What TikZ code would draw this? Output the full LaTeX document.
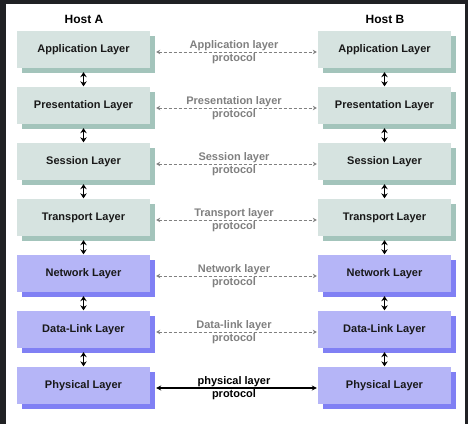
\documentclass[tikz,border=0pt]{standalone}
\usepackage{fontspec}
\setmainfont{Liberation Sans}
\usetikzlibrary{positioning, shadows, arrows.meta}
\definecolor{upfill}{RGB}{214,227,224}
\definecolor{upshade}{RGB}{163,196,187}
\definecolor{lowfill}{RGB}{181,181,247}
\definecolor{lowshade}{RGB}{128,128,244}
\definecolor{peergray}{RGB}{128,128,128}
\definecolor{frame}{RGB}{32,33,36}

\begin{document}
\begin{tikzpicture}[x=1pt, y=-1pt, inner sep=0pt,
      font=\bfseries\fontsize{11}{12.5}\selectfont,
      layer/.style={minimum width=133pt, minimum height=37pt, text=black!90},
      upper/.style={layer, fill=upfill, drop shadow={shadow xshift=5pt,
          shadow yshift=-5pt, fill=upshade, opacity=1}},
      lower/.style={layer, fill=lowfill, drop shadow={shadow xshift=5pt,
          shadow yshift=-5pt, fill=lowshade, opacity=1}},
      stack/.style={{Stealth[length=5pt,width=6.5pt]}-{Stealth[length=5pt,width=6.5pt]},
          line width=1.7pt, shorten <=4pt, shorten >=0.5pt},
      peer/.style={{Stealth[length=4pt,width=4.5pt]}-{Stealth[length=4pt,width=4.5pt]},
          draw=peergray, dash pattern=on 3pt off 2pt, line width=0.9pt,
          shorten <=6pt, shorten >=1pt},
      wire/.style={{Stealth[length=5pt,width=5pt]}-{Stealth[length=5pt,width=5pt]},
          draw=black, line width=1.1pt, shorten <=6pt, shorten >=1pt},
      proto/.style={align=center, text=peergray}]
      \useasboundingbox (0,0) rectangle (468,424);
      \fill[frame] (0,0) rectangle (468,424);
      \fill[white] (6,4) rectangle (465,424);
      % hosts
      \node (host_a) at(84,19.5) {\fontsize{12}{12}\selectfont Host A};
      \node (host_b) at(385,19.5) {\fontsize{12}{12}\selectfont Host B};
      % host A stack
      \node[upper] (a_1) at(83.5,49.5) {Application Layer};
      \node[upper] (a_2) at(83.5,105.5) {Presentation Layer};
      \node[upper] (a_3) at(83.5,161.5) {Session Layer};
      \node[upper] (a_4) at(83.5,217.5) {Transport Layer};
      \node[lower] (a_5) at(83.5,273.5) {Network Layer};
      \node[lower] (a_6) at(83.5,329.5) {Data-Link Layer};
      \node[lower] (a_7) at(83.5,385.5) {Physical Layer};
      \draw[stack] (a_1) -- (a_2);
      \draw[stack] (a_2) -- (a_3);
      \draw[stack] (a_3) -- (a_4);
      \draw[stack] (a_4) -- (a_5);
      \draw[stack] (a_5) -- (a_6);
      \draw[stack] (a_6) -- (a_7);
      % host B stack
      \node[upper] (b_1) at(384.5,49.5) {Application Layer};
      \node[upper] (b_2) at(384.5,105.5) {Presentation Layer};
      \node[upper] (b_3) at(384.5,161.5) {Session Layer};
      \node[upper] (b_4) at(384.5,217.5) {Transport Layer};
      \node[lower] (b_5) at(384.5,273.5) {Network Layer};
      \node[lower] (b_6) at(384.5,329.5) {Data-Link Layer};
      \node[lower] (b_7) at(384.5,385.5) {Physical Layer};
      \draw[stack] (b_1) -- (b_2);
      \draw[stack] (b_2) -- (b_3);
      \draw[stack] (b_3) -- (b_4);
      \draw[stack] (b_4) -- (b_5);
      \draw[stack] (b_5) -- (b_6);
      \draw[stack] (b_6) -- (b_7);
      % peer protocols
      \draw[peer] ([yshift=-2.5pt]a_1.east) -- node[proto] {Application layer\\protocol} ([yshift=-2.5pt]b_1.west);
      \draw[peer] ([yshift=-2.5pt]a_2.east) -- node[proto] {Presentation layer\\protocol} ([yshift=-2.5pt]b_2.west);
      \draw[peer] ([yshift=-2.5pt]a_3.east) -- node[proto] {Session layer\\protocol} ([yshift=-2.5pt]b_3.west);
      \draw[peer] ([yshift=-2.5pt]a_4.east) -- node[proto] {Transport layer\\protocol} ([yshift=-2.5pt]b_4.west);
      \draw[peer] ([yshift=-2.5pt]a_5.east) -- node[proto] {Network layer\\protocol} ([yshift=-2.5pt]b_5.west);
      \draw[peer] ([yshift=-2.5pt]a_6.east) -- node[proto] {Data-link layer\\protocol} ([yshift=-2.5pt]b_6.west);
      \draw[wire] ([yshift=-2.5pt]a_7.east) -- node[proto, text=black] {physical layer\\protocol} ([yshift=-2.5pt]b_7.west);
  \end{tikzpicture}
\end{document}
